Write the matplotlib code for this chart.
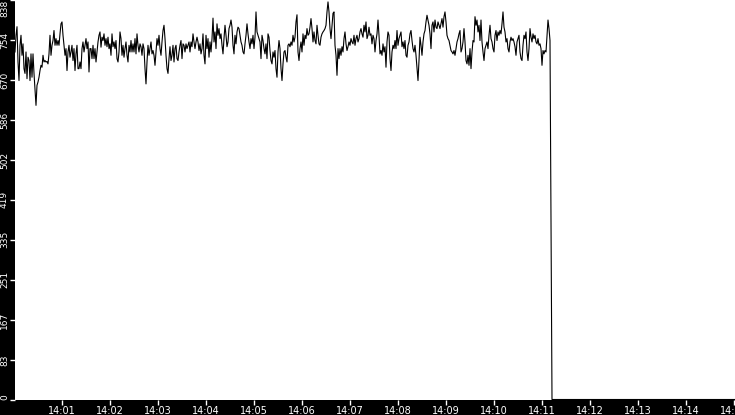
import datetime as dt
import numpy as np
import matplotlib
matplotlib.use("Agg")
import matplotlib.pyplot as plt
import matplotlib.dates as mdates

# Sampled values (one sample every 1.25 s starting 14:00:01)
seg1 = [729, 764, 782, 708, 669, 743, 764, 722, 746, 694, 684, 729, 673, 718, 711, 669,
        725, 676, 725, 684, 652, 617, 659, 666, 676, 690, 701, 697, 722, 708, 711, 708,
        709, 704, 725, 764, 722, 743, 753, 774, 743, 757, 743, 753, 743, 767, 788, 792,
        764, 743, 722, 736, 690, 729, 743, 718, 729, 743, 711, 736, 690, 725, 743, 694,
        694, 708, 694, 736, 750, 729, 743, 757, 736, 750, 687, 736, 736, 715, 743, 715,
        736, 708, 729, 750, 764, 771, 739, 760, 753, 767, 743, 757]
seg2 = [740, 760, 736, 746, 722, 767, 740, 750, 736, 753, 715, 708, 729, 771, 757, 722,
        743, 718, 736, 750, 722, 708, 743, 729, 753, 729, 746, 729, 757, 725, 767, 743,
        729, 746, 740, 722, 746, 736, 694, 662, 708, 743, 722, 736, 750, 725, 732, 722,
        701, 729, 757, 743, 764, 736, 722, 750, 774, 785, 757, 722, 694, 684, 715, 740,
        711, 722, 743, 708, 736, 743, 715, 711, 729, 743, 753, 715, 746, 743, 729, 746,
        736, 743, 750, 729, 750, 740, 767, 750, 736, 750]
seg3 = [760, 750, 732, 746, 725, 736, 767, 722, 704, 764, 736, 757, 718, 750, 729, 757,
        800, 750, 771, 736, 788, 764, 778, 757, 767, 743, 725, 757, 785, 764, 740, 750,
        778, 785, 796, 781, 743, 725, 764, 746, 771, 781, 778, 764, 750, 743, 729, 725,
        746, 764, 788, 767, 750, 736, 757, 746, 764, 736, 760, 813, 771, 764, 757, 750,
        715, 764, 753, 736, 725, 746, 715, 767, 760, 732, 711, 704, 729, 718, 732, 694,
        676, 729, 753, 736, 694, 669, 704, 729, 732, 718]
seg4 = [708, 743, 746, 740, 750, 743, 764, 750, 760, 792, 807, 729, 711, 736, 750, 729,
        767, 743, 764, 757, 778, 764, 767, 781, 799, 778, 750, 771, 753, 746, 785, 764,
        746, 743, 760, 767, 771, 774, 778, 785, 813, 834, 813, 778, 757, 785, 810, 813,
        743, 722, 680, 736, 715, 736, 722, 740, 729, 757, 771, 746, 732, 740, 750, 743,
        757, 750, 746, 764, 743, 757, 764, 750, 757, 771, 778, 767, 760, 785, 771, 792,
        757, 764, 781, 764, 767, 746, 764, 757, 729, 753]
seg5 = [767, 796, 764, 725, 732, 722, 746, 729, 740, 697, 750, 771, 764, 715, 690, 729,
        743, 736, 753, 736, 774, 743, 757, 764, 771, 740, 750, 736, 753, 722, 718, 743,
        750, 767, 774, 753, 736, 729, 743, 722, 694, 669, 711, 760, 743, 722, 750, 767,
        774, 792, 806, 796, 785, 767, 736, 785, 792, 771, 796, 781, 778, 792, 785, 778,
        788, 799, 781, 803, 813, 792, 764, 757, 753, 743, 732, 729, 725, 732, 722, 736,
        750, 757, 767, 774, 729, 736, 750, 778, 750, 711]
seg6 = [704, 722, 701, 736, 694, 729, 753, 750, 803, 785, 796, 771, 785, 753, 796, 750,
        729, 711, 736, 743, 750, 736, 764, 785, 757, 750, 736, 729, 764, 774, 753, 771,
        764, 774, 767, 788, 813, 781, 771, 750, 757, 736, 729, 750, 760, 753, 757, 750,
        740, 722, 750, 757, 764, 729, 715, 711, 743, 764, 757, 771, 729, 711, 736, 778,
        760, 750, 767, 757, 764, 750, 746, 757, 743, 746, 736, 701, 732, 725, 732, 729,
        764, 796, 778, 753]
tail_values = [368, 0, 0]

y_ticks = [0, 83, 167, 251, 335, 419, 502, 586, 670, 754, 838]
x_tick_labels = ["14:01", "14:02", "14:03", "14:04", "14:05", "14:06", "14:07",
                 "14:08", "14:09", "14:10", "14:11", "14:12", "14:13", "14:14", "14:15"]

values = seg1 + seg2 + seg3 + seg4 + seg5 + seg6
base = dt.datetime(2024, 1, 1, 14, 0, 1)
step = dt.timedelta(seconds=1.25)
times = [base + i * step for i in range(len(values))]
n = len(values)
tail_times = [base + n * step, base + (n + 1) * step, dt.datetime(2024, 1, 1, 14, 15, 1)]
all_t = times + tail_times
all_v = values + tail_values

fig = plt.figure(figsize=(7.35, 4.15), dpi=100, facecolor="black")
ax = fig.add_axes([15 / 735, 15.5 / 415, 720 / 735, 399.5 / 415])
ax.set_facecolor("white")
ax.plot(all_t, all_v, color="black", linewidth=0.8, clip_on=False)

ax.set_xlim(dt.datetime(2024, 1, 1, 14, 0, 1), dt.datetime(2024, 1, 1, 14, 15, 1))
ax.set_ylim(0, 838)

xt = [dt.datetime(2024, 1, 1, 14, int(s[3:]), 0) for s in x_tick_labels]
ax.set_xticks(xt)
ax.set_xticklabels(x_tick_labels)
ax.set_yticks(y_ticks)
ax.set_yticklabels([str(v) for v in y_ticks], rotation=90, va="center")
ylabels = ax.get_yticklabels()
ylabels[-1].set_va("top")
ylabels[0].set_va("bottom")

ax.tick_params(axis="both", colors="white", length=3.6, width=1, direction="out",
               pad=0.8)
ax.tick_params(axis="x", labelsize=7)
ax.tick_params(axis="y", labelsize=6.5)
for s in ax.spines.values():
    s.set_visible(False)

fig.savefig("out.png", dpi=100, facecolor="black")
